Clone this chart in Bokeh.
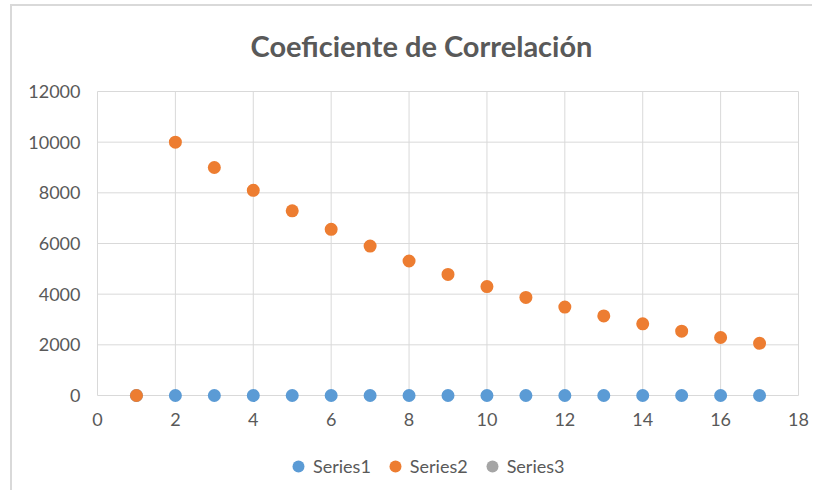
from bokeh.plotting import figure
from bokeh.models import Range1d, FixedTicker, Legend, LegendItem, Label
from bokeh.embed import file_html
from bokeh.resources import INLINE

x_vals = list(range(1, 18))
series1 = [0] * 17
series2 = [0, 10000, 9000, 8100, 7290, 6560, 5900, 5310, 4780, 4300, 3870, 3490, 3140, 2830, 2540, 2290, 2060]
series3_x = [float("nan")]   # Series3 has no visible values
series3_y = [float("nan")]
x_ticks = list(range(0, 19, 2))
y_ticks = list(range(0, 12001, 2000))
title_text = "Coeficiente de Correlación"

X_MIN, X_MAX = 0, 18
Y_MIN, Y_MAX = 0, 12000

FONT = "Lato"
TXT = "#595959"
GRID = "#d9d9d9"

# the frame is extended around the value area so that title, tick labels and legend fit in it
PLOT_W, PLOT_H = 701, 304
PX_X = PLOT_W / (X_MAX - X_MIN)
PX_Y = PLOT_H / (Y_MAX - Y_MIN)
LEFT_PAD, RIGHT_PAD, TOP_PAD, BOTTOM_PAD = 10, 12, 85, 95
x_lo = X_MIN - LEFT_PAD / PX_X
x_hi = X_MAX + RIGHT_PAD / PX_X
y_lo = Y_MIN - BOTTOM_PAD / PX_Y
y_hi = Y_MAX + TOP_PAD / PX_Y

p = figure(frame_width=PLOT_W + LEFT_PAD + RIGHT_PAD, frame_height=PLOT_H + TOP_PAD + BOTTOM_PAD,
           output_backend="svg", toolbar_location=None, title=None,
           x_range=Range1d(x_lo, x_hi), y_range=Range1d(y_lo, y_hi),
           min_border_left=75, min_border_right=2, min_border_top=0, min_border_bottom=0)
p.styles = {"border-left": "2px solid #d9d9d9", "border-top": "2px solid #d9d9d9",
            "margin-left": "10px", "margin-top": "4px"}
p.outline_line_color = None
p.xgrid.visible = False
p.ygrid.visible = False

# gridlines (and plot-area edges) limited to the value area
p.segment(x0=x_ticks, y0=Y_MIN, x1=x_ticks, y1=Y_MAX, line_color=GRID, line_width=1)
p.segment(x0=X_MIN, y0=y_ticks, x1=X_MAX, y1=y_ticks, line_color=GRID, line_width=1)

for ax in (p.xaxis[0], p.yaxis[0]):
    ax.axis_line_color = None
    ax.major_tick_line_color = None
    ax.minor_tick_line_color = None
    ax.major_tick_out = 0
    ax.major_tick_in = 0
    ax.major_label_text_font = FONT
    ax.major_label_text_font_size = "18px"
    ax.major_label_text_color = TXT
p.xaxis.ticker = FixedTicker(ticks=x_ticks)
p.yaxis.ticker = FixedTicker(ticks=y_ticks)
p.xaxis.fixed_location = Y_MIN
p.yaxis.bounds = (Y_MIN, Y_MAX)
p.xaxis.major_label_standoff = 17
p.yaxis.major_label_standoff = 17 - LEFT_PAD

r1 = p.scatter(x_vals, series1, size=13, color="#5B9BD5", line_color=None)
r2 = p.scatter(x_vals, series2, size=13, color="#ED7D31", line_color=None)
r3 = p.scatter(series3_x, series3_y, size=13, color="#A5A5A5", line_color=None)

p.add_layout(Label(x=324 + LEFT_PAD, y=445, x_units="screen", y_units="screen", text=title_text,
                   text_font=FONT, text_font_size="29px", text_font_style="bold",
                   text_color=TXT, text_align="center", text_baseline="middle"))

legend = Legend(items=[LegendItem(label="Series1", renderers=[r1]),
                       LegendItem(label="Series2", renderers=[r2]),
                       LegendItem(label="Series3", renderers=[r3])],
                orientation="horizontal", location=(186 + LEFT_PAD, 9))
legend.label_text_font = FONT
legend.label_text_font_size = "18px"
legend.label_text_color = TXT
legend.border_line_color = None
legend.background_fill_alpha = 0
legend.glyph_width = 30
legend.glyph_height = 30
legend.label_standoff = 0
legend.spacing = 9
legend.padding = 0
legend.margin = 0
p.add_layout(legend, "center")

open("out.html", "w").write(file_html(p, INLINE))
